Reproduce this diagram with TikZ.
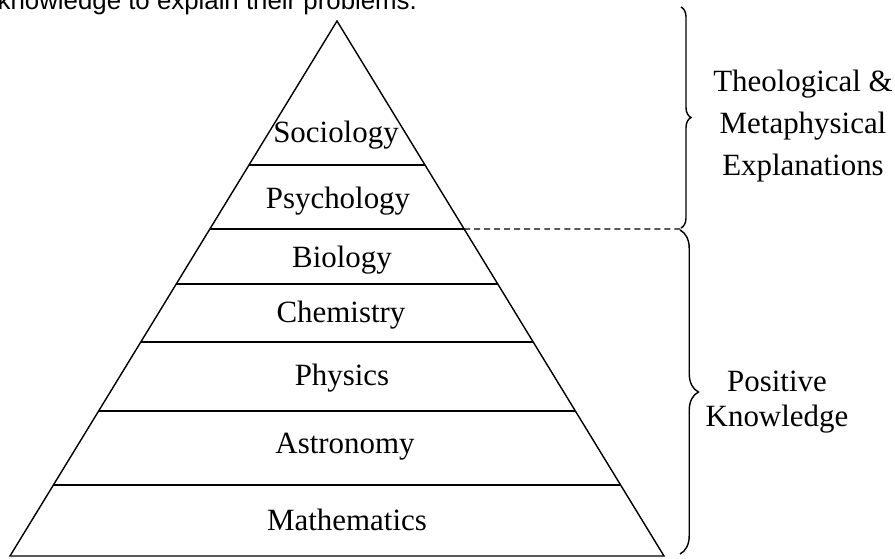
\documentclass[tikz,border=0pt]{standalone}
\usepackage{fontspec}
\setmainfont{Liberation Serif}
\newfontfamily\sansfont{Liberation Sans}
\usetikzlibrary{calc,decorations.pathreplacing}

\begin{document}
\begin{tikzpicture}[x = 0.02cm, y = -0.02cm, line width = 0.8pt,
  layer/.style = {anchor=base, inner sep=0pt, font=\fontsize{17.6}{23.9}\selectfont},
  side/.style = {align=center, inner sep=0pt},
  bracket/.style = {decorate, decoration={brace, amplitude=#1}},]

\useasboundingbox (0,0) rectangle (895,558);
\clip (0,0) rectangle (895,558);

\node[anchor=base west, inner sep=0pt, font=\sansfont\fontsize{14.7}{17}\selectfont] (top) at (-3,9) {knowledge to explain their problems.};

\coordinate (A) at (337,21);
\coordinate (L) at (10,556);
\coordinate (R) at (664,556);
\draw (A) -- (L) -- (R) -- cycle;

\foreach \y [count=\i] in {165,229,284,342,411,485} {
  \coordinate (l\i) at ($(A)!{(\y-21)/535}!(L)$);
  \coordinate (r\i) at ($(A)!{(\y-21)/535}!(R)$);
  \draw (l\i) -- (r\i);
}

\node[layer] (soc) at (336,142) {Sociology};
\node[layer] (psy) at (338,208) {Psychology};
\node[layer] (bio) at (342,267) {Biology};
\node[layer] (che) at (341,322) {Chemistry};
\node[layer] (phy) at (342,385) {Physics};
\node[layer] (ast) at (345,453) {Astronomy};
\node[layer] (mat) at (347,530) {Mathematics};

\coordinate (D) at (683,229);
\draw[dash pattern=on 3.4pt off 2.3pt] (r2) -- (D);

\coordinate (T1) at (681,7);
\coordinate (T2) at (681,228);
\coordinate (P1) at (680,230);
\coordinate (P2) at (680,554);
\draw[bracket=5.7pt] (T1) -- (T2);
\draw[bracket=10.5pt] (P1) -- (P2);

\node[side, font=\fontsize{17.6}{23.9}\selectfont] (theo) at (803,126) {Theological \&\\Metaphysical\\Explanations};
\node[side, font=\fontsize{17.6}{19.9}\selectfont] (pos) at (777,402) {Positive\\Knowledge};

\end{tikzpicture}
\end{document}
